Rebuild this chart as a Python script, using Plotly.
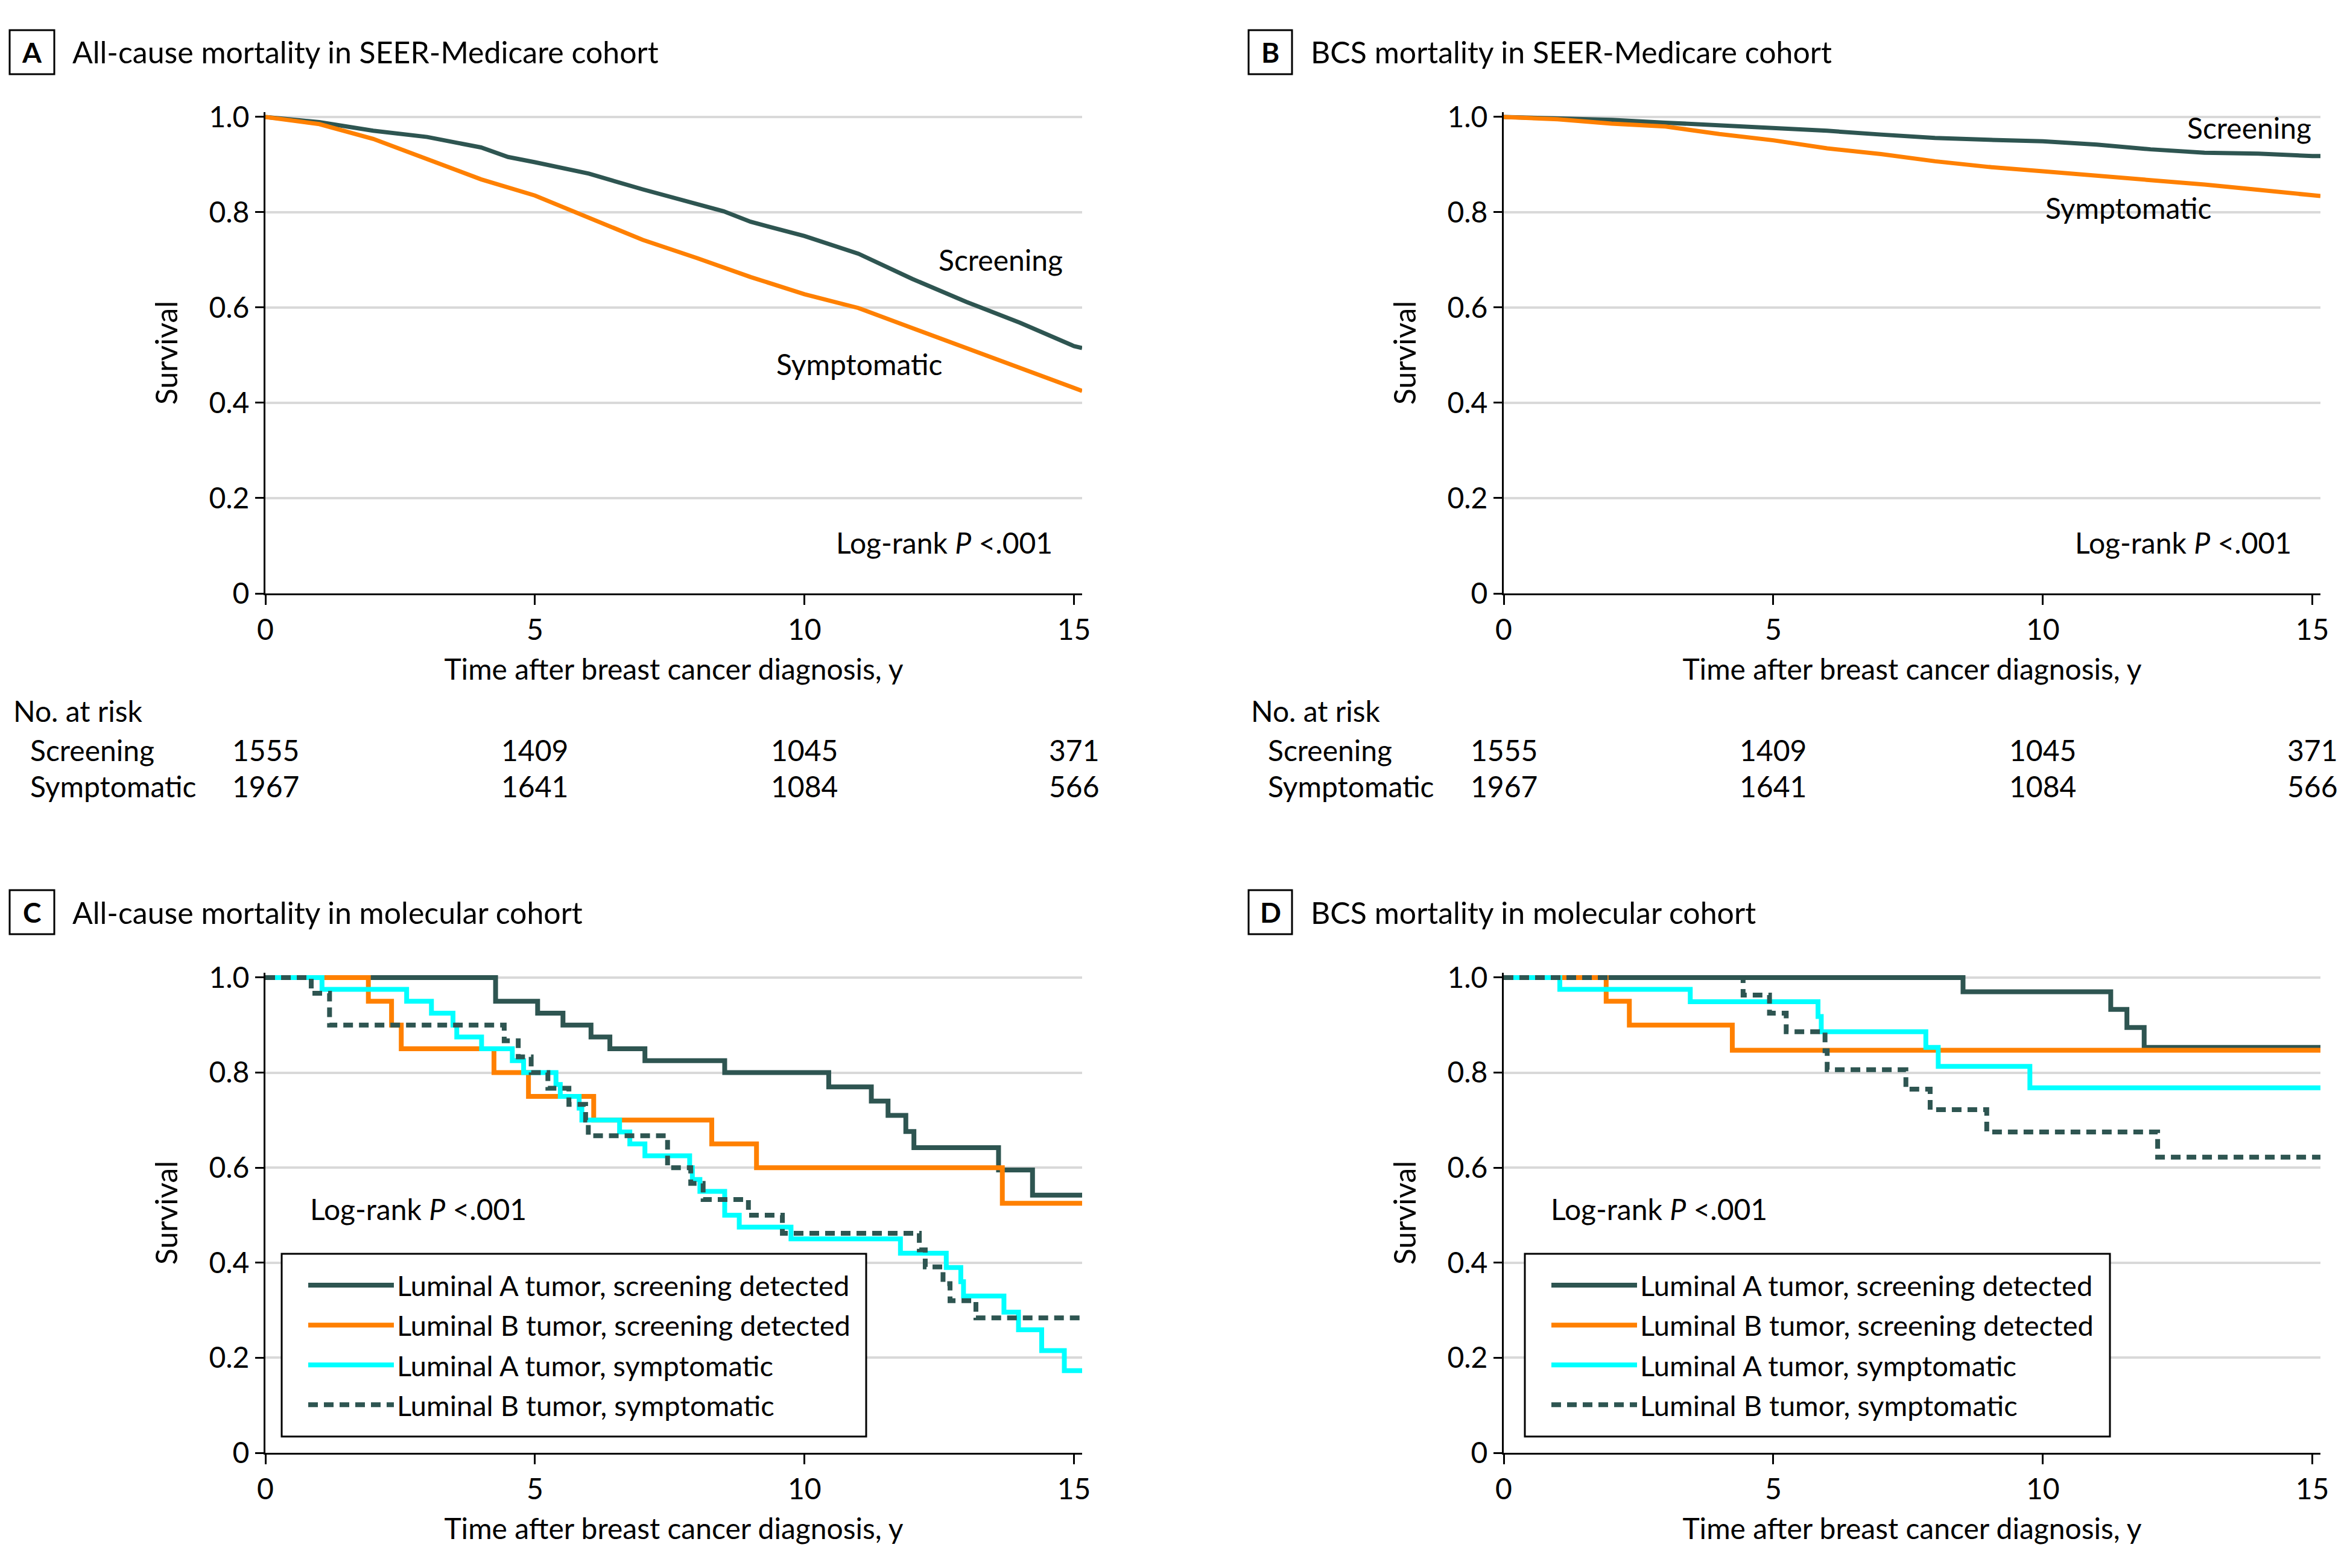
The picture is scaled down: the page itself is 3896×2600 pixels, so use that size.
import plotly.graph_objects as go

W, H = 3896, 2600
FONT = "Lato"
DARK = "#2E5551"
ORANGE = "#FF8000"
CYAN = "#00FFFF"
GRID = "#D9D9D9"

# ---------------- data ----------------
# Panel A: all-cause mortality, SEER-Medicare
a_scr_t = [0, 0.5, 1, 2, 3, 4, 4.5, 5, 6, 7, 8, 8.5, 9, 10, 11, 12, 13, 14, 15, 15.15]
a_scr_s = [1.0, 0.995, 0.989, 0.971, 0.958, 0.936, 0.916, 0.905, 0.881, 0.848, 0.818, 0.802,
           0.780, 0.750, 0.713, 0.660, 0.612, 0.568, 0.519, 0.515]
a_sym_t = [0, 0.5, 1, 2, 3, 4, 5, 6, 7, 8, 9, 10, 11, 12, 13, 14, 15, 15.15]
a_sym_s = [1.0, 0.993, 0.985, 0.954, 0.911, 0.869, 0.835, 0.789, 0.742, 0.704, 0.664, 0.628,
           0.599, 0.557, 0.515, 0.472, 0.430, 0.425]

# Panel B: BCS mortality, SEER-Medicare
b_t = [0, 1, 2, 3, 4, 5, 6, 7, 8, 9, 10, 11, 12, 13, 14, 15, 15.15]
b_scr_s = [1.0, 0.997, 0.994, 0.988, 0.983, 0.976, 0.971, 0.963, 0.956, 0.952, 0.949, 0.942,
           0.932, 0.925, 0.923, 0.918, 0.918]
b_sym_s = [1.0, 0.995, 0.986, 0.980, 0.964, 0.951, 0.934, 0.922, 0.907, 0.895, 0.886, 0.877,
           0.869, 0.858, 0.847, 0.836, 0.834]

# Numbers at risk (panels A and B)
risk_times = [0, 5, 10, 15]
risk_scr = [1555, 1409, 1045, 371]
risk_sym = [1967, 1641, 1084, 566]

# Panel C: all-cause mortality, molecular cohort
c_lumA_scr_t = [0, 4.27, 5.05, 5.52, 6.04, 6.39, 7.04, 8.52, 10.45, 11.24, 11.55, 11.88, 12.03, 13.60, 14.23, 15.15]
c_lumA_scr_s = [1.0, 0.95, 0.925, 0.90, 0.875, 0.85, 0.825, 0.80, 0.77, 0.74, 0.71, 0.676, 0.642, 0.595, 0.542, 0.542]
c_lumB_scr_t = [0, 1.91, 2.34, 2.52, 4.24, 4.88, 6.09, 8.28, 9.11, 13.67, 15.15]
c_lumB_scr_s = [1.0, 0.95, 0.90, 0.85, 0.80, 0.75, 0.70, 0.65, 0.60, 0.525, 0.525]
c_lumA_sym_t = [0, 1.05, 2.62, 3.08, 3.48, 3.55, 4.01, 4.58, 4.79, 5.39, 5.47, 5.82, 5.87, 6.57, 6.76,
                7.04, 7.87, 7.92, 8.06, 8.52, 8.79, 9.75, 11.78, 12.63, 12.90, 12.95, 13.70, 13.97,
                14.40, 14.82, 15.15]
c_lumA_sym_s = [1.0, 0.975, 0.95, 0.925, 0.90, 0.875, 0.85, 0.825, 0.80, 0.775, 0.75, 0.725, 0.70,
                0.675, 0.65, 0.625, 0.60, 0.575, 0.55, 0.50, 0.475, 0.45, 0.42, 0.39, 0.36, 0.33,
                0.296, 0.259, 0.215, 0.173, 0.173]
c_lumB_sym_t = [0, 0.85, 1.19, 4.43, 4.69, 4.93, 5.24, 5.63, 5.94, 5.99, 7.46, 7.89, 8.12, 8.96,
                9.59, 12.13, 12.24, 12.57, 12.70, 13.18, 15.15]
c_lumB_sym_s = [1.0, 0.967, 0.90, 0.867, 0.833, 0.80, 0.767, 0.733, 0.70, 0.667, 0.60, 0.567,
                0.533, 0.50, 0.462, 0.427, 0.391, 0.356, 0.320, 0.284, 0.284]

# Panel D: BCS mortality, molecular cohort
d_lumA_scr_t = [0, 8.52, 11.26, 11.56, 11.88, 15.15]
d_lumA_scr_s = [1.0, 0.97, 0.933, 0.895, 0.853, 0.853]
d_lumB_scr_t = [0, 1.90, 2.33, 4.24, 15.15]
d_lumB_scr_s = [1.0, 0.95, 0.90, 0.847, 0.847]
d_lumA_sym_t = [0, 1.04, 3.46, 5.83, 5.89, 7.83, 8.06, 9.76, 15.15]
d_lumA_sym_s = [1.0, 0.975, 0.949, 0.918, 0.886, 0.853, 0.813, 0.768, 0.768]
d_lumB_sym_t = [0, 4.44, 4.93, 5.24, 5.96, 6.00, 7.46, 7.91, 8.96, 12.13, 15.15]
d_lumB_sym_s = [1.0, 0.963, 0.925, 0.886, 0.846, 0.806, 0.765, 0.722, 0.675, 0.622, 0.622]

legend_names = ["Luminal A tumor, screening detected", "Luminal B tumor, screening detected",
                "Luminal A tumor, symptomatic", "Luminal B tumor, symptomatic"]

y_tickvals = [0, 0.2, 0.4, 0.6, 0.8, 1.0]
y_ticktext = ["0", "0.2", "0.4", "0.6", "0.8", "1.0"]
x_tickvals = [0, 5, 10, 15]

# ---------------- helpers ----------------
def fx(px):
    return px / W


def fy(py):
    return 1 - py / H


fig = go.Figure()

# Panels A and B (smooth KM curves)
for xa, ya, pairs in [("x", "y", [(a_scr_t, a_scr_s, DARK), (a_sym_t, a_sym_s, ORANGE)]),
                      ("x2", "y2", [(b_t, b_scr_s, DARK), (b_t, b_sym_s, ORANGE)])]:
    for t, s, c in pairs:
        fig.add_trace(go.Scatter(x=t, y=s, mode="lines", xaxis=xa, yaxis=ya, showlegend=False,
                                 line=dict(color=c, width=7), hoverinfo="skip"))

# Panels C and D (step curves)
styles = [(DARK, "solid"), (ORANGE, "solid"), (CYAN, "solid"), (DARK, "16px,10px")]
c_series = [(c_lumA_scr_t, c_lumA_scr_s), (c_lumB_scr_t, c_lumB_scr_s),
            (c_lumA_sym_t, c_lumA_sym_s), (c_lumB_sym_t, c_lumB_sym_s)]
d_series = [(d_lumA_scr_t, d_lumA_scr_s), (d_lumB_scr_t, d_lumB_scr_s),
            (d_lumA_sym_t, d_lumA_sym_s), (d_lumB_sym_t, d_lumB_sym_s)]
for xa, ya, leg, series in [("x3", "y3", "legend", c_series), ("x4", "y4", "legend2", d_series)]:
    for i, ((t, s), (c, dash)) in enumerate(zip(series, styles)):
        fig.add_trace(go.Scatter(x=t, y=s, mode="lines", xaxis=xa, yaxis=ya, name=legend_names[i],
                                 legend=leg, legendgroup=leg + str(i),
                                 line=dict(color=c, width=8, dash=dash, shape="hv"),
                                 hoverinfo="skip"))

tickfont = dict(family=FONT, size=48, color="black")
xrange = [0, 15.15]
yrange = [0, 1.01]

# pixel geometry
xdomL = [fx(440), fx(1794)]
xdomR = [fx(2493), fx(3847)]
ydomT = [fy(984), fy(186)]
ydomB = [fy(2409), fy(1613)]


def xaxis(dom, anchor):
    return dict(domain=dom, anchor=anchor, range=xrange, showgrid=False, zeroline=False,
                automargin=False,
                showline=True, linecolor="black", linewidth=3, ticks="outside", ticklen=16,
                tickwidth=3, tickcolor="black", tickvals=x_tickvals, tickfont=tickfont,
                title=dict(text="Time after breast cancer diagnosis, y",
                           font=dict(family=FONT, size=48, color="black"), standoff=24))


def yaxis(dom, anchor):
    return dict(domain=dom, anchor=anchor, range=yrange, showgrid=True, gridcolor=GRID,
                gridwidth=4, zeroline=False, showline=True, linecolor="black", linewidth=3,
                automargin=False,
                ticks="outside", ticklen=14, tickwidth=3, tickcolor="black",
                tickvals=y_tickvals, ticktext=y_ticktext, tickfont=tickfont,
                title=dict(text="Survival", font=dict(family=FONT, size=50, color="black"),
                           standoff=36))


legend_common = dict(bgcolor="rgba(0,0,0,0)", borderwidth=0, itemwidth=142,
                     font=dict(family=FONT, size=47, color="black"), traceorder="grouped",
                     tracegroupgap=2, xanchor="left", yanchor="top", itemclick=False)

fig.update_layout(
    width=W, height=H, margin=dict(l=0, r=0, t=0, b=0, pad=0, autoexpand=False),
    paper_bgcolor="white", plot_bgcolor="white",
    font=dict(family=FONT, color="black"),
    xaxis=xaxis(xdomL, "y"), yaxis=yaxis(ydomT, "x"),
    xaxis2=xaxis(xdomR, "y2"), yaxis2=yaxis(ydomT, "x2"),
    xaxis3=xaxis(xdomL, "y3"), yaxis3=yaxis(ydomB, "x3"),
    xaxis4=xaxis(xdomR, "y4"), yaxis4=yaxis(ydomB, "x4"),
    legend=dict(x=fx(506), y=fy(2094), **legend_common),
    legend2=dict(x=fx(2567), y=fy(2094), **legend_common),
)

shapes = []
annotations = []

# Panel headers
headers = [("A", "All-cause mortality in SEER-Medicare cohort", 16, 90, 118, 50, 123),
           ("B", "BCS mortality in SEER-Medicare cohort", 2070, 2142, 2171, 50, 123),
           ("C", "All-cause mortality in molecular cohort", 16, 90, 118, 1476, 1549),
           ("D", "BCS mortality in molecular cohort", 2070, 2142, 2171, 1476, 1549)]
for letter, title, bx0, bx1, tx, by0, by1 in headers:
    shapes.append(dict(type="rect", xref="paper", yref="paper", x0=fx(bx0), x1=fx(bx1),
                       y0=fy(by1), y1=fy(by0), line=dict(color="black", width=3),
                       fillcolor="white"))
    annotations.append(dict(xref="paper", yref="paper", x=fx((bx0 + bx1) / 2), y=fy((by0 + by1) / 2),
                            text="<b>%s</b>" % letter, showarrow=False, xanchor="center",
                            yanchor="middle", font=dict(family=FONT, size=46, color="black")))
    annotations.append(dict(xref="paper", yref="paper", x=fx(tx), y=fy((by0 + by1) / 2),
                            text=title, showarrow=False, xanchor="left", yanchor="middle",
                            font=dict(family=FONT, size=50, color="black")))

# Legend boxes (C, D)
for bx0, bx1 in [(467, 1436), (2528, 3498)]:
    shapes.append(dict(type="rect", xref="paper", yref="paper", x0=fx(bx0), x1=fx(bx1),
                       y0=fy(2382), y1=fy(2079), line=dict(color="black", width=3),
                       fillcolor="white", layer="above"))

# Curve labels
lab_font = dict(family=FONT, size=48, color="black")
annotations += [
    dict(xref="x", yref="y", x=12.47, y=0.701, text="Screening", showarrow=False,
         xanchor="left", yanchor="middle", font=lab_font),
    dict(xref="x", yref="y", x=9.45, y=0.481, text="Symptomatic", showarrow=False,
         xanchor="left", yanchor="middle", font=lab_font),
    dict(xref="x2", yref="y2", x=12.66, y=0.978, text="Screening", showarrow=False,
         xanchor="left", yanchor="middle", font=lab_font),
    dict(xref="x2", yref="y2", x=10.02, y=0.809, text="Symptomatic", showarrow=False,
         xanchor="left", yanchor="middle", font=lab_font),
]

# Log-rank annotations
lr = "Log-rank <i>P</i> &lt;.001"
annotations += [
    dict(xref="x", yref="y", x=14.62, y=0.107, text=lr, showarrow=False, xanchor="right",
         yanchor="middle", font=lab_font),
    dict(xref="x2", yref="y2", x=14.64, y=0.107, text=lr, showarrow=False, xanchor="right",
         yanchor="middle", font=lab_font),
    dict(xref="x3", yref="y3", x=0.80, y=0.513, text=lr, showarrow=False, xanchor="left",
         yanchor="middle", font=lab_font),
    dict(xref="x4", yref="y4", x=0.85, y=0.513, text=lr, showarrow=False, xanchor="left",
         yanchor="middle", font=lab_font),
]

# Numbers at risk
for xr, hx, rx in [("x", 20, 48), ("x2", 2072, 2100)]:
    annotations.append(dict(xref="paper", yref="paper", x=fx(hx), y=fy(1178), text="No. at risk",
                            showarrow=False, xanchor="left", yanchor="middle", font=lab_font))
    annotations.append(dict(xref="paper", yref="paper", x=fx(rx), y=fy(1243), text="Screening",
                            showarrow=False, xanchor="left", yanchor="middle", font=lab_font))
    annotations.append(dict(xref="paper", yref="paper", x=fx(rx), y=fy(1303), text="Symptomatic",
                            showarrow=False, xanchor="left", yanchor="middle", font=lab_font))
    for t, ns, ny in zip(risk_times, risk_scr, risk_sym):
        annotations.append(dict(xref=xr, yref="paper", x=t, y=fy(1243), text=str(ns),
                                showarrow=False, xanchor="center", yanchor="middle", font=lab_font))
        annotations.append(dict(xref=xr, yref="paper", x=t, y=fy(1303), text=str(ny),
                                showarrow=False, xanchor="center", yanchor="middle", font=lab_font))

fig.update_layout(shapes=shapes, annotations=annotations)

fig.write_html("out.html", config={"displayModeBar": False},
               post_script="document.body.style.margin='0';document.body.style.overflow='hidden';")
